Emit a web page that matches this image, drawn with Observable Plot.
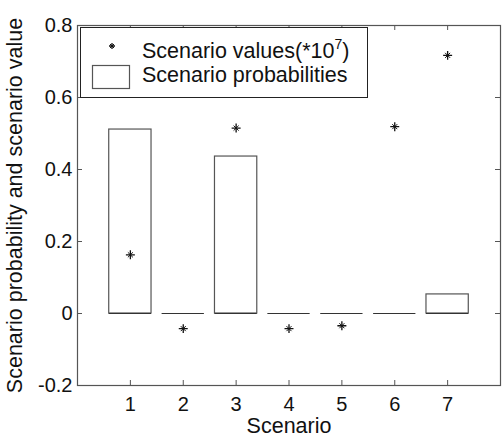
<!DOCTYPE html>
<html>
<head>
<meta charset="utf-8">
<script src="https://cdn.jsdelivr.net/npm/d3@7"></script>
<script src="https://cdn.jsdelivr.net/npm/@observablehq/plot@0.6"></script>
<style>
  html, body { margin: 0; padding: 0; background: #fff; }
  #chart { position: relative; width: 503px; height: 438px; }
</style>
</head>
<body>
<div id="chart"></div>
<script>
// ---- data ----
const scenarios = [1, 2, 3, 4, 5, 6, 7];
const probabilities = [0.511, 0, 0.436, 0, 0, 0, 0.053];
const values = [0.163, -0.042, 0.515, -0.042, -0.034, 0.519, 0.717];
const xTicks = [1, 2, 3, 4, 5, 6, 7];
const yTicks = [-0.2, 0, 0.2, 0.4, 0.6, 0.8];
const yTickLabels = ["-0.2", "0", "0.2", "0.4", "0.6", "0.8"];
const xLabel = "Scenario";
const yLabel = "Scenario probability and scenario value";
const legendLabels = ["Scenario values(*10", "7", ")", "Scenario probabilities"];

const rows = scenarios.map((s, i) => ({s, p: probabilities[i], v: values[i]}));
const FONT = "'Liberation Sans', Arial, Helvetica, sans-serif";
const AX = "#555";

const plot = Plot.plot({
  width: 503,
  height: 438,
  marginLeft: 77,
  marginRight: 3,
  marginTop: 25,
  marginBottom: 53,
  style: {fontFamily: FONT, fontSize: "20px", color: "#111", background: "#fff"},
  x: {domain: [0, 8], axis: null},
  y: {domain: [-0.2, 0.8], axis: null},
  marks: [
    Plot.rect(rows.filter(d => d.p > 0), {
      x1: d => d.s - 0.4, x2: d => d.s + 0.4, y1: 0, y2: "p",
      fill: "#fff", stroke: AX, strokeWidth: 1.2
    }),
    Plot.ruleY(rows, {y: 0, x1: d => d.s - 0.4, x2: d => d.s + 0.4, stroke: "#333", strokeWidth: 1.2}),
    Plot.dot(rows, {x: "s", y: "v", symbol: "plus", r: 3, stroke: "#111", strokeWidth: 1.3}),
    Plot.dot(rows, {x: "s", y: "v", symbol: "times", r: 2.4, stroke: "#111", strokeWidth: 1}),
    // inward ticks (MATLAB box style)
    Plot.ruleX(xTicks, {x: d => d, insetTop: 355, stroke: AX}),
    Plot.ruleX(xTicks, {x: d => d, insetBottom: 355, stroke: AX}),
    Plot.ruleY(yTicks, {y: d => d, insetRight: 418, stroke: AX}),
    Plot.ruleY(yTicks, {y: d => d, insetLeft: 418, stroke: AX}),
    Plot.axisX(xTicks, {tickSize: 0, tickPadding: 11, tickFormat: d => String(d), label: null, fontSize: 20}),
    Plot.axisY(yTicks, {tickSize: 0, tickPadding: 5, tickFormat: d => yTickLabels[yTicks.indexOf(d)], label: null, fontSize: 20}),
    Plot.text([xLabel], {text: d => d, frameAnchor: "bottom", textAnchor: "middle", lineAnchor: "bottom", dy: 47, fontSize: 21.5, fill: "#111"}),
    Plot.text([yLabel], {text: d => d, frameAnchor: "left", textAnchor: "middle", rotate: -90, lineAnchor: "top", dx: -71, fontSize: 21.5, fill: "#111"}),
    Plot.frame({stroke: AX, strokeWidth: 1.2})
  ]
});

document.getElementById("chart").appendChild(plot);

// ---- legend (MATLAB-style box in the upper-left of the axes) ----
const svg = d3.select(plot);
const g = svg.append("g").attr("font-family", FONT).attr("font-size", 21.5).attr("fill", "#111").attr("text-anchor", "start");
g.append("rect").attr("x", 80.5).attr("y", 27.5).attr("width", 287).attr("height", 70)
  .attr("fill", "#fff").attr("stroke", "#222").attr("stroke-width", 1);
const sx = 112, sy = 46;
g.append("path").attr("d", `M${sx-3},${sy}H${sx+3}M${sx},${sy-3}V${sy+3}`).attr("stroke", "#111").attr("stroke-width", 1.3);
g.append("path").attr("d", `M${sx-2},${sy-2}L${sx+2},${sy+2}M${sx-2},${sy+2}L${sx+2},${sy-2}`).attr("stroke", "#111").attr("stroke-width", 1);
g.append("rect").attr("x", 92.5).attr("y", 65.5).attr("width", 37).attr("height", 23)
  .attr("fill", "#fff").attr("stroke", AX).attr("stroke-width", 1.2);
const t1 = g.append("text").attr("x", 142).attr("y", 58);
t1.append("tspan").text(legendLabels[0]);
t1.append("tspan").attr("font-size", 14).attr("dy", -9).text(legendLabels[1]);
t1.append("tspan").attr("dy", 9).text(legendLabels[2]);
g.append("text").attr("x", 142).attr("y", 82).text(legendLabels[3]);
</script>
</body>
</html>
